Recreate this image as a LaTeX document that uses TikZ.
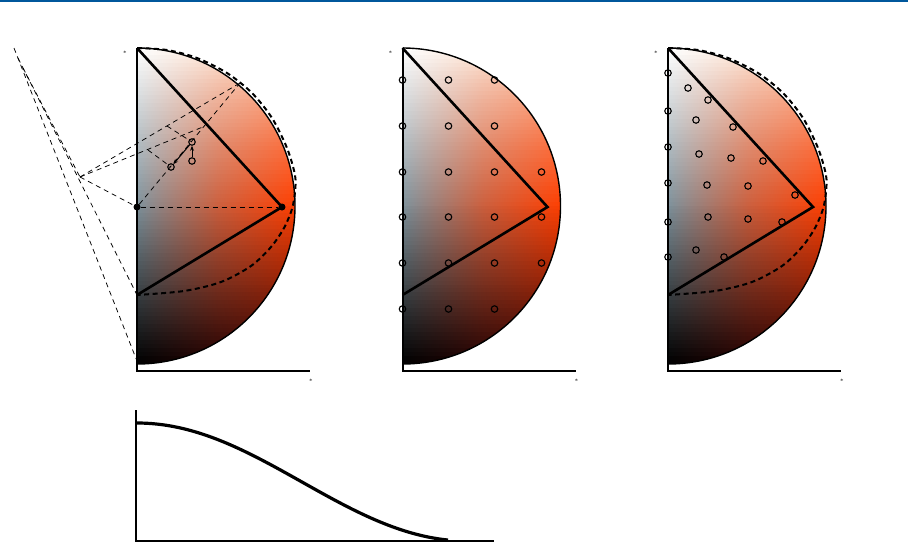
\documentclass[tikz,border=0pt]{standalone}
\usepackage{tikz}
\usetikzlibrary{arrows.meta}
\definecolor{hue}{RGB}{255,62,0}
\definecolor{cream}{RGB}{255,242,222}
\definecolor{deep}{RGB}{60,0,0}
\definecolor{cool}{RGB}{125,145,155}
\definecolor{rule}{RGB}{0,87,156}

\begin{document}
\begin{tikzpicture}[x=1pt, y=-1pt,
  dot/.style={circle, fill, inner sep=0pt, minimum size=7pt},
  ring/.style={circle, draw, line width=1.1pt, inner sep=0pt, minimum size=6.5pt},
  guide/.style={line width=0.75pt, dash pattern=on 5pt off 4pt},
  rim/.style={line width=2pt, dash pattern=on 5pt off 3.5pt},
  asterisk/.style={inner sep=0pt, font=\fontsize{6}{6}\selectfont}]
  \useasboundingbox (0,0) rectangle (908,542);
  \fill[rule] (0,0) rectangle (908,2.4);

  % three half disks: shaded body, outline, triangle, axes
  \foreach \px [count=\n] in {137,402.5,668}{
    \begin{scope}
      \clip (\px,48) arc[start angle=-90, end angle=90, radius=158] -- cycle;
      \foreach \k in {0,...,79}{
        \pgfmathsetmacro\lt{1-(\k+0.5)/80}
        \pgfmathtruncatemacro\pl{min(100,200-200*\lt)}
        \pgfmathtruncatemacro\pr{min(100,100*pow(max(0.001,2-2*\lt),0.6))}
        \pgfmathtruncatemacro\pb{min(100,200*\lt)}
        \colorlet{lc}{cool!\pl!white!\pb!black}
        \colorlet{rc}{hue!\pr!cream!\pb!deep}
        \shade[left color=lc, right color=rc, middle color=rc!60!lc]
          (\px,48+\k*3.95) rectangle (\px+160,48+\k*3.95+4.6);
      }
    \end{scope}
    \draw[line width=1.4pt] (\px,48) arc[start angle=-90, end angle=90, radius=158];
    \coordinate (a\n) at (\px,48);
    \coordinate (b\n) at (\px+145,207);
    \coordinate (c\n) at (\px,295);
    \draw[line width=2.6pt, line join=miter] (a\n) -- (b\n) -- (c\n);
    \draw[line width=2pt] (\px,48) -- (\px,371) -- (\px+173,371);
    \node[asterisk] (tl\n) at (\px-12,53) {*};
    \node[asterisk] (br\n) at (\px+174,381) {*};
  }

  % dashed rim of the tilted disk
  \foreach \px in {137,668}
    \draw[rim] plot[smooth] coordinates {(\px,48) (\px+30,50) (\px+60,58) (\px+90,73)
      (\px+115,93) (\px+135,118) (\px+150,148) (\px+158,175) (\px+158,192) (\px+155,209)
      (\px+147,228) (\px+134,247) (\px+114,266) (\px+84,282) (\px+47,291) (\px,295)};

  % construction in the first panel
  \coordinate (P) at (80,177);
  \coordinate (Q) at (240,83);
  \coordinate (R) at (204,126.5);
  \coordinate (S1) at (148,150);
  \coordinate (S2) at (167,126);
  \coordinate (T1) at (14,48);
  \coordinate (T2) at (18,58);
  \coordinate (T3) at (23,68);
  \coordinate (B1) at (137,361);
  \node[dot] (O) at (137,207) {};
  \node[dot] (V) at (282,207) {};
  \draw[guide] (P) -- (O);
  \draw[guide] (P) -- (Q);
  \draw[guide] (P) -- (R);
  \draw[guide] (O) -- (Q);
  \draw[guide] (O) -- (V);
  \draw[guide] (S1) -- (171,167);
  \draw[guide] (S2) -- (192,142);
  \draw[guide] (T1) -- (B1);
  \draw[guide] (T2) -- (c1);
  \draw[guide] (T3) -- (P);
  \node[ring] (C1) at (192,142) {};
  \node[ring] (C2) at (192,161) {};
  \node[ring] (C3) at (171,167) {};
  \draw[-{Stealth[length=5pt,width=4pt]}, line width=1pt] (C2) -- (C1);
  \draw[-{Stealth[length=5pt,width=4pt]}, line width=1pt] (C1) -- (C3);

  % regular grid in the second panel
  \foreach \cx/\cy [count=\j] in {0/80,46/80,92/80, 0/126,46/126,92/126,
      0/172,46/172,92/172,139/172, 0/217,46/217,92/217,139/217,
      0/263,46/263,92/263,139/263, 0/309,46/309,92/309}
    \node[ring] (g\j) at (402.5+\cx,\cy) {};

  % points of the third panel
  \foreach \cx/\cy [count=\j] in {668/73,688/88,708/100, 668/111,696/120,733/127,
      668/147,699/154,731/158,763/161, 668/183,707/185,748/186,795/195,
      668/222,708/217,748/219,782/222, 668/257,696/250,724/257}
    \node[ring] (h\j) at (\cx,\cy) {};

  % profile below
  \coordinate (yt) at (136,410);
  \coordinate (org) at (136,541);
  \coordinate (xr) at (494,541);
  \draw[line width=1.8pt] (yt) -- (org) -- (xr);
  \draw[line width=3.2pt] plot[domain=0:311, samples=60, smooth]
    ({137+\x}, {423+59*(1-cos(\x*0.54545))});
\end{tikzpicture}
\end{document}
